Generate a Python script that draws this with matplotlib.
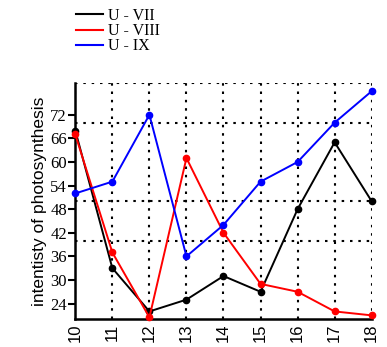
import matplotlib
matplotlib.use("Agg")
import matplotlib.pyplot as plt

x = [10, 11, 12, 13, 14, 15, 16, 17, 18]
u_vii = [68, 33, 22, 25, 31, 27, 48, 65, 50]
u_viii = [67, 37, 20.5, 61, 42, 29, 27, 22, 21]
u_ix = [52, 55, 72, 36, 44, 55, 60, 70, 78]
yticks = [24, 30, 36, 42, 48, 54, 60, 66, 72]
ygrid = [30, 40, 50, 60, 70, 80]

fig = plt.figure(figsize=(3.87, 3.47), dpi=100)
ax = fig.add_axes([75.3/387, 1-319.3/347, (371.7-75.3)/387, (319.3-83.3)/347])

ax.plot(x, u_vii, color='black', marker='o', markersize=4.5, lw=1.4, label='U - VII', zorder=3, clip_on=False)
ax.plot(x, u_viii, color='red', marker='o', markersize=4.5, lw=1.4, label='U - VIII', zorder=3, clip_on=False)
ax.plot(x, u_ix, color='blue', marker='o', markersize=4.5, lw=1.4, label='U - IX', zorder=3, clip_on=False)

ax.set_xlim(10, 18)
ax.set_ylim(20, 80)
ax.set_xticks(x)
ax.set_xticklabels([str(v) for v in x], rotation=90, family='Liberation Sans', fontsize=12)
ax.set_yticks(yticks)
ax.set_yticklabels([str(v) for v in yticks], family='Liberation Serif', fontsize=12)
ax.set_yticks(ygrid, minor=True)
ax.tick_params(axis='x', length=0, pad=3)
ax.tick_params(axis='y', which='major', length=5, width=1.5, direction='out', pad=1)
ax.tick_params(axis='y', which='minor', length=0)
ax.grid(axis='x', which='major', color='black', linestyle=(0, (1.2, 2.8)), lw=1.5, zorder=1)
ax.grid(axis='y', which='minor', color='black', linestyle=(0, (1.2, 2.8)), lw=1.5, zorder=1)
ax.set_axisbelow(True)
for s in ['top', 'right']:
    ax.spines[s].set_visible(False)
for s in ['left', 'bottom']:
    ax.spines[s].set_linewidth(1.8)
ax.set_ylabel('intentisty of photosynthesis', family='Liberation Sans', fontsize=12.5, labelpad=2)

leg = fig.legend(loc='upper left', bbox_to_anchor=(68/387, 1-0/347), frameon=False,
                 prop={'family': 'Liberation Serif', 'size': 11.5}, handlelength=1.7,
                 handletextpad=0.3, labelspacing=-0.05, borderpad=0)
for h in leg.get_lines():
    h.set_marker('')
    h.set_linewidth(1.5)

fig.savefig('out.png', dpi=100)
